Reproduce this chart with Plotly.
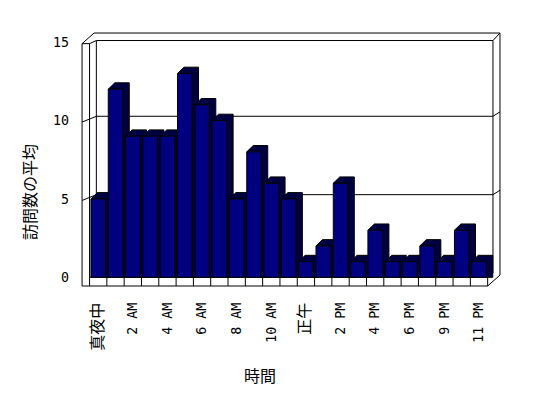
import plotly.graph_objects as go

# ---------------- data ----------------
categories = ["真夜中", "1 AM", "2 AM", "3 AM", "4 AM", "5 AM", "6 AM", "7 AM",
              "8 AM", "9 AM", "10 AM", "11 AM", "正午", "1 PM", "2 PM", "3 PM",
              "4 PM", "5 PM", "6 PM", "8 PM", "9 PM", "10 PM", "11 PM"]
visits_avg = [5, 12, 9, 9, 9, 13, 11, 10, 5, 8, 6, 5, 1, 2, 6, 1, 3, 1, 1, 2, 1, 3, 1]
y_ticks = [0, 5, 10, 15]
y_title = "訪問数の平均"
x_title = "時間"

# ---------------- layout geometry ----------------
# window pixel targets; the page body adds an 8px margin around the figure
WIN_W, WIN_H, OFF = 548, 398, 8
FIG_W, FIG_H = WIN_W - 2 * OFF, WIN_H - 2 * OFF
PLOT_L, PLOT_R, PLOT_T, PLOT_B = 70, 510, 25, 292   # window px
L, T = PLOT_L - OFF, PLOT_T - OFF
R, B = FIG_W - (PLOT_R - OFF), FIG_H - (PLOT_B - OFF)
PW, PH = FIG_W - L - R, FIG_H - T - B
SX = 17.31          # px per category
SY = 15.68          # px per value unit
X0_PX = 98.2        # window px of first category centre
Y0_PX = 277.3       # window px of value 0

xmin = -(X0_PX - PLOT_L) / SX
xmax = xmin + PW / SX
ymin = -(PLOT_B - Y0_PX) / SY
ymax = (Y0_PX - PLOT_T) / SY

n = len(categories)
BW = 14.5 / SX                 # bar front width
BDX, BDY = 6.5 / SX, 6.3 / SY  # bar depth offset

NAVY = "#000080"
SHADE = "#000040"

fig = go.Figure()

# ---------------- walls / floor (decoration) ----------------
XL = -0.5
XRf = n - 0.5
XO = XL - 7.5 / SX            # outer front of left wall
XLb = XL + 6.8 / SX           # back wall inner left
XRb = XRf + 5.3 / SX          # back wall inner right
XOT = XL + 4.5 / SX           # outer top line start
XRO = XRf + 12.3 / SX         # outer right
TOPF = 14.9                   # left wall front top
TOPB = 15.1                   # back wall inner top
TOPO = TOPB + 7.5 / SY        # back wall outer top
FLB = -8.7 / SY               # floor front bottom
BACK = 0.27                   # back wall offset
RB = 2.2 / SY                 # bottom of outer right edge

line = dict(color="black", width=1)
segs = [
    # left wall
    (XO, FLB, XO, TOPF), (XL, 0, XL, TOPF), (XO, TOPF, XL, TOPF),
    (XO, TOPF, XOT, TOPO), (XL, TOPF, XLb, TOPB),
    # back wall
    (XLb, BACK, XLb, TOPB), (XLb, TOPB, XRb, TOPB), (XRb, BACK, XRb, TOPB),
    (XOT, TOPO, XRO, TOPO), (XRb, TOPB, XRO, TOPO), (XRO, RB, XRO, TOPO),
    # floor
    (XL, 0, XRf, 0), (XO, FLB, XRf, FLB), (XRf, FLB, XRO, RB),
    (XRf, 0, XRb, BACK),
]
for k in range(n + 1):
    segs.append((k - 0.5, FLB, k - 0.5, 0))

shapes = [dict(type="line", xref="x", yref="y", x0=a, y0=b, x1=c, y1=d,
               line=line, layer="below") for a, b, c, d in segs]

# gridlines on back wall
for v in y_ticks[1:-1]:
    path = (f"M{XO},{v - 0.1} L{XLb},{v + BACK} L{XRb},{v + BACK} "
            f"L{XRO},{v + BACK + 0.28}")
    shapes.append(dict(type="path", xref="x", yref="y", path=path,
                       line=line, layer="below"))

# ---------------- bars (3D look) ----------------
for i, v in enumerate(visits_avg):
    h = BW / 2
    # side + top faces
    sx_ = [i - h, i - h + BDX, i + h + BDX, i + h + BDX, i + h, i + h, i - h]
    sy_ = [v, v + BDY, v + BDY, 0, 0, v, v]
    fig.add_trace(go.Scatter(x=sx_, y=sy_, mode="lines", fill="toself",
                             fillcolor=SHADE, line=dict(color="black", width=1),
                             hoverinfo="skip", showlegend=False))
    # front face
    fx = [i - h, i + h, i + h, i - h, i - h]
    fy = [0, 0, v, v, 0]
    fig.add_trace(go.Scatter(x=fx, y=fy, mode="lines", fill="toself",
                             fillcolor=NAVY, line=dict(color="black", width=1),
                             name=categories[i], showlegend=False,
                             hovertemplate=f"{categories[i]}: {v}<extra></extra>"))


def lab(s):
    if any(ord(ch) > 0x2000 for ch in s):
        return f"<span style='font-size:16px'>{s}</span>"
    return s


tick_idx = list(range(0, n, 2))
FONT_MONO = "DejaVu Sans Mono, Noto Sans CJK JP, sans-serif"
FONT_CJK = "Noto Sans CJK JP, sans-serif"

fig.update_layout(
    width=FIG_W, height=FIG_H,
    margin=dict(l=L, r=R, t=T, b=B, pad=0, autoexpand=False),
    paper_bgcolor="white", plot_bgcolor="white",
    shapes=shapes,
    xaxis=dict(range=[xmin, xmax], showgrid=False, zeroline=False,
               showline=False, ticks="", tickvals=tick_idx,
               ticktext=[lab(categories[k]) for k in tick_idx],
               tickangle=-90, ticklabelstandoff=7, automargin=False,
               tickfont=dict(family=FONT_MONO, size=13.3, color="black")),
    yaxis=dict(range=[ymin, ymax], showgrid=False, zeroline=False,
               showline=False, ticks="", tickvals=y_ticks,
               ticktext=[str(t) for t in y_ticks], automargin=False,
               tickfont=dict(family=FONT_MONO, size=13.3, color="black")),
    annotations=[
        dict(text=y_title, xref="paper", yref="paper",
             x=(29 - PLOT_L) / PW, y=1 - (192 - PLOT_T) / PH, showarrow=False,
             textangle=-90, xanchor="center", yanchor="middle",
             font=dict(family=FONT_CJK, size=16, color="black")),
        dict(text=x_title, xref="paper", yref="paper",
             x=(260 - PLOT_L) / PW, y=1 - (375 - PLOT_T) / PH, showarrow=False,
             xanchor="center", yanchor="middle",
             font=dict(family=FONT_CJK, size=16, color="black")),
    ],
)

fig.write_html("out.html")
